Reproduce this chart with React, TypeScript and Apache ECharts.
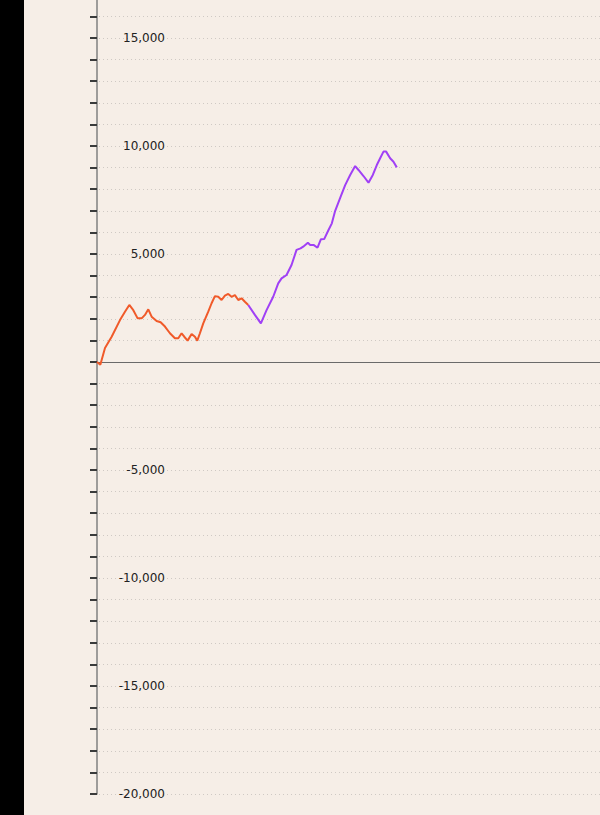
import React, { useEffect, useRef } from "react";
import * as echarts from "echarts";

// trade number, cumulative P&L
const orangeTrades = [0, 1, 2.4, 4.4, 6.9, 8.4, 9.7, 10.9, 12.2, 13.4, 14.4, 15.4, 16.4, 17.9, 19.1, 20.4, 21.9, 23.4, 24.4, 25.4, 26.2, 27.2, 28.4, 29.4, 30.1, 30.9, 31.9, 33.4, 34.4, 35.4, 36.4, 37.4, 38.4, 39.4, 40.4, 41.4, 42.4, 43.4, 44.4, 45.4];
const orangeValues = [0, -125, 650, 1170, 1940, 2330, 2640, 2400, 2020, 2020, 2180, 2440, 2100, 1900, 1840, 1640, 1330, 1100, 1100, 1330, 1170, 990, 1300, 1170, 990, 1330, 1790, 2330, 2720, 3050, 3020, 2870, 3070, 3150, 3020, 3100, 2870, 2950, 2790, 2640];
const purpleTrades = [45.4, 47.4, 49.2, 50.9, 52.9, 54.4, 55.4, 56.9, 58.4, 59.9, 61.1, 61.9, 63.3, 64, 65, 66.2, 67.2, 68.2, 69.5, 70.5, 71.5, 73, 74.5, 76, 77.5, 78.5, 80, 81.5, 82.8, 84, 85, 86, 86.8, 88, 89, 90];
const purpleValues = [2640, 2180, 1790, 2400, 3020, 3640, 3870, 4030, 4490, 5190, 5260, 5340, 5520, 5420, 5420, 5290, 5680, 5690, 6110, 6420, 7000, 7600, 8190, 8660, 9070, 8890, 8610, 8300, 8660, 9120, 9430, 9740, 9740, 9430, 9270, 9010];

const yMin = -20000;
const yMax = 17000;
const yStep = 1000;
const labelStep = 5000;
const xMin = -0.6;
const xMax = 151;

export default function App() {
  const ref = useRef<HTMLDivElement>(null);
  useEffect(() => {
    if (!ref.current) return;
    const chart = echarts.init(ref.current, undefined, { renderer: "svg" });
    const zip = (xs: number[], ys: number[]) => xs.map((x, i) => [x, ys[i]]);
    chart.setOption({
      animation: false,
      backgroundColor: "#f6eee7",
      grid: { left: 71, right: 0, top: 4.8, bottom: 21 },
      xAxis: {
        type: "value",
        min: xMin,
        max: xMax,
        axisLine: { show: true, onZero: true, lineStyle: { color: "#6a6a6a", width: 1.2 } },
        axisTick: { show: false },
        axisLabel: { show: false },
        splitLine: { show: false },
      },
      yAxis: {
        type: "value",
        min: yMin,
        max: yMax,
        interval: yStep,
        axisLine: { show: true, lineStyle: { color: "#808080", width: 1.5 } },
        axisTick: { show: true, length: 7, lineStyle: { color: "#3a3a3a", width: 2 } },
        axisLabel: {
          inside: true,
          margin: 70,
          align: "right",
          color: "#222222",
          fontFamily: "DejaVu Sans",
          fontSize: 12,
          formatter: (v: number) =>
            v !== 0 && v % labelStep === 0 ? v.toLocaleString("en-US") : "",
        },
        splitLine: { show: true, lineStyle: { color: "#cfc9c4", width: 1, type: [1, 3] } },
      },
      series: [
        {
          type: "line",
          data: zip(orangeTrades, orangeValues),
          showSymbol: false,
          lineStyle: { color: "#f05a2a", width: 2 },
          z: 3,
        },
        {
          type: "line",
          data: zip(purpleTrades, purpleValues),
          showSymbol: false,
          lineStyle: { color: "#a040f5", width: 2 },
          z: 3,
        },
      ],
    });
    return () => chart.dispose();
  }, []);
  return (
    <div style={{ position: "fixed", left: 0, top: 0, width: 600, height: 815, overflow: "hidden", background: "#000" }}>
      <div ref={ref} style={{ position: "absolute", left: 24, top: -10, width: 576, height: 825 }} />
    </div>
  );
}
